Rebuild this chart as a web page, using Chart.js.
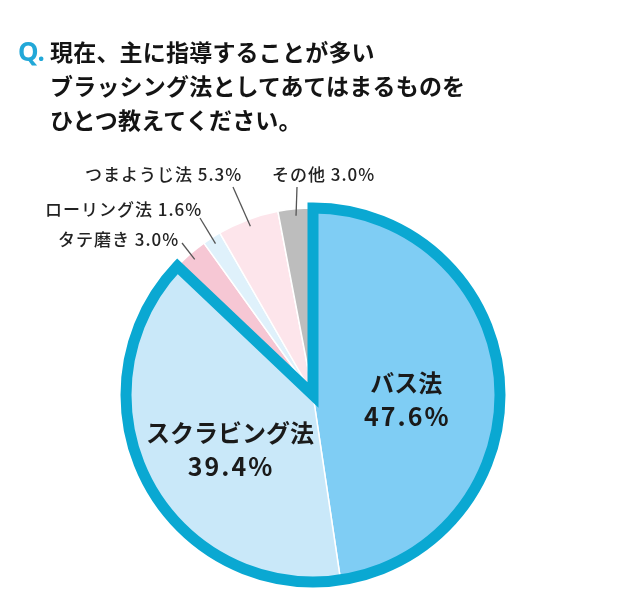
<!DOCTYPE html>
<html lang="ja">
<head>
<meta charset="utf-8">
<script src="https://cdn.jsdelivr.net/npm/chart.js@4.4.1/dist/chart.umd.min.js"></script>
<style>
  html, body { margin: 0; padding: 0; background: #fff; }
  #wrap { position: relative; width: 630px; height: 600px; overflow: hidden; }
  #c { position: absolute; left: 0; top: 0; }
  #title { position: absolute; left: 18px; top: 34px; display: flex; align-items: flex-start; z-index: 2; }
  #q { font-family: "Noto Sans", sans-serif; font-weight: 700; font-size: 26px; color: #22a8d8; line-height: 34px; width: 32px; }
  #t { font-family: "Noto Sans CJK JP", sans-serif; font-weight: 700; font-size: 23px; color: #141414; line-height: 34px; letter-spacing: 0.2px; }
</style>
</head>
<body>
<div id="wrap">
  <div id="title"><div id="q">Q.</div><div id="t">現在、主に指導することが多い<br>ブラッシング法としてあてはまるものを<br>ひとつ教えてください。</div></div>
  <canvas id="c" width="630" height="600"></canvas>
</div>
<script>
// ---- data ----
const categories = ['バス法', 'スクラビング法', 'タテ磨き', 'ローリング法', 'つまようじ法', 'その他'];
const values = [47.6, 39.4, 3.0, 1.6, 5.3, 3.0];
const sliceColors = ['#7fcdf4', '#c9e8f9', '#f6c7d4', '#dff1fb', '#fde5eb', '#bdbdbd'];

// ---- styling / layout config ----
const OUTLINE_COLOR = '#0aa8d2';
const insideIdx = [0, 1];
const outsideLabels = {
  2: { x: 58,  y: 240, sx: 182, sy: 243 },
  3: { x: 45,  y: 210, sx: 200, sy: 218 },
  4: { x: 85,  y: 175, sx: 233, sy: 187 },
  5: { x: 272, y: 175, sx: 297, sy: 187 }
};

const outlinePlugin = {
  id: 'outline',
  afterDatasetsDraw(chart) {
    const arcs = chart.getDatasetMeta(0).data;
    const a = arcs[0], b = arcs[1];
    const ctx = chart.ctx;
    ctx.save();
    ctx.beginPath();
    ctx.moveTo(a.x, a.y);
    ctx.arc(a.x, a.y, a.outerRadius, a.startAngle, b.endAngle);
    ctx.closePath();
    ctx.lineWidth = 11;
    ctx.strokeStyle = OUTLINE_COLOR;
    ctx.lineJoin = 'miter';
    ctx.stroke();
    ctx.restore();
  }
};

const labelPlugin = {
  id: 'labels',
  afterDraw(chart) {
    const arcs = chart.getDatasetMeta(0).data;
    const ctx = chart.ctx;
    ctx.save();
    // inside labels
    insideIdx.forEach(i => {
      const p = arcs[i].getCenterPoint();
      ctx.fillStyle = '#1a1a1a';
      ctx.textAlign = 'center';
      ctx.textBaseline = 'middle';
      ctx.font = '700 24px "Noto Sans CJK JP"';
      ctx.letterSpacing = '0px';
      ctx.fillText(categories[i], p.x, p.y - 5);
      ctx.font = '700 25px "Noto Sans CJK JP"';
      ctx.letterSpacing = '2px';
      ctx.fillText(values[i].toFixed(1) + '%', p.x + 1, p.y + 28);
    });
    // outside labels
    Object.keys(outsideLabels).forEach(k => {
      const i = +k;
      const cfg = outsideLabels[i];
      const arc = arcs[i];
      const mid = (arc.startAngle + arc.endAngle) / 2;
      const r = arc.outerRadius - 7;
      const ex = arc.x + Math.cos(mid) * r;
      const ey = arc.y + Math.sin(mid) * r;
      ctx.strokeStyle = '#555';
      ctx.lineWidth = 1.3;
      ctx.beginPath();
      ctx.moveTo(cfg.sx, cfg.sy);
      ctx.lineTo(ex, ey);
      ctx.stroke();
      ctx.fillStyle = '#222';
      ctx.textAlign = 'left';
      ctx.textBaseline = 'middle';
      ctx.font = '500 17px "Noto Sans CJK JP"';
      ctx.letterSpacing = '1px';
      ctx.fillText(categories[i] + ' ' + values[i].toFixed(1) + '%', cfg.x, cfg.y);
    });
    ctx.restore();
  }
};

new Chart(document.getElementById('c'), {
  type: 'pie',
  data: {
    labels: categories,
    datasets: [{
      data: values,
      backgroundColor: sliceColors,
      borderColor: '#ffffff',
      borderWidth: 1.5,
      hoverOffset: 0,
      radius: 187
    }]
  },
  options: {
    responsive: false,
    animation: false,
    events: [],
    layout: { padding: { left: 0, right: 4, top: 190, bottom: 0 } },
    plugins: { legend: { display: false }, tooltip: { enabled: false } }
  },
  plugins: [outlinePlugin, labelPlugin]
});
</script>
</body>
</html>
